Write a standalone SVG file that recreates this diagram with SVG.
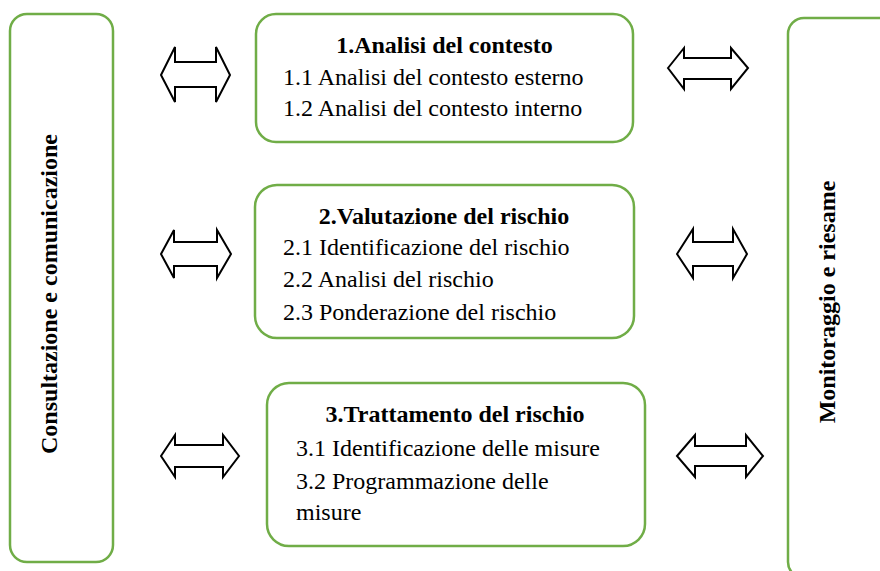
<svg xmlns="http://www.w3.org/2000/svg" width="880" height="571" viewBox="0 0 880 571">
<defs>
<style>
.box{fill:#ffffff;stroke:#70AD47;stroke-width:2.5}
.arr{fill:#ffffff;stroke:#000000;stroke-width:2;stroke-linejoin:miter}
</style>
</defs>
<rect width="880" height="571" fill="#ffffff"/>
<g id="consultazione">
<rect class="box" x="10" y="14" width="103" height="548" rx="17"/>
<text transform="translate(57,294) rotate(-90)" font-family="Liberation Serif" font-size="24" font-weight="bold" text-anchor="middle">Consultazione e comunicazione</text>
</g>
<g id="monitoraggio">
<rect class="box" x="788" y="18" width="110" height="560" rx="16"/>
<text transform="translate(835,302) rotate(-90)" font-family="Liberation Serif" font-size="24" font-weight="bold" text-anchor="middle">Monitoraggio e riesame</text>
</g>
<g id="analisi">
<rect class="box" x="256" y="14" width="377" height="128" rx="20"/>
<text x="444.5" y="53" font-family="Liberation Serif" font-size="24" font-weight="bold" text-anchor="middle">1.Analisi del contesto</text>
<text x="283" y="85" font-family="Liberation Serif" font-size="24">1.1 Analisi del contesto esterno</text>
<text x="283" y="116" font-family="Liberation Serif" font-size="24">1.2 Analisi del contesto interno</text>
</g>
<g id="valutazione">
<rect class="box" x="255" y="185" width="379" height="153" rx="22"/>
<text x="444" y="224" font-family="Liberation Serif" font-size="24" font-weight="bold" text-anchor="middle">2.Valutazione del rischio</text>
<text x="283" y="255" font-family="Liberation Serif" font-size="24">2.1 Identificazione del rischio</text>
<text x="283" y="287" font-family="Liberation Serif" font-size="24">2.2 Analisi del rischio</text>
<text x="283" y="320" font-family="Liberation Serif" font-size="24">2.3 Ponderazione del rischio</text>
</g>
<g id="trattamento">
<rect class="box" x="267" y="383" width="378" height="163" rx="22"/>
<text x="455" y="422" font-family="Liberation Serif" font-size="24" font-weight="bold" text-anchor="middle">3.Trattamento del rischio</text>
<text x="296" y="456" font-family="Liberation Serif" font-size="24">3.1 Identificazione delle misure</text>
<text x="296" y="489" font-family="Liberation Serif" font-size="24">3.2 Programmazione delle</text>
<text x="296" y="520" font-family="Liberation Serif" font-size="24">misure</text>
</g>
<g id="connectors">
<polygon class="arr" points="161,75 175,47 175,62 216,62 216,47 230,75 216,102 216,87 175,87 175,102"/>
<polygon class="arr" points="668,68 684,48 684,58 731,58 731,48 748,68 731,89 731,79 684,79 684,89"/>
<polygon class="arr" points="161,254 174,230 174,242 217,242 217,230 231,254 217,278 217,266 174,266 174,278"/>
<polygon class="arr" points="677,254 693,229 693,242 733,242 733,229 747,254 733,278 733,266 693,266 693,278"/>
<polygon class="arr" points="161,456 175,435 175,445 223,445 223,435 239,456 223,477 223,467 175,467 175,477"/>
<polygon class="arr" points="677,456 695,435 695,446 746,446 746,435 763,456 746,477 746,466 695,466 695,477"/>
</g>
</svg>
